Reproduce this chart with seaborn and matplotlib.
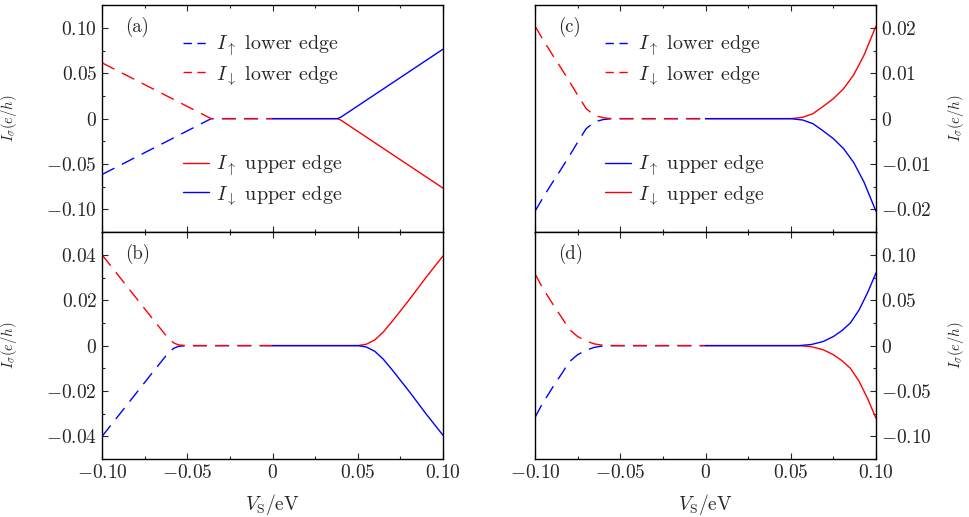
import matplotlib
matplotlib.use('Agg')
import matplotlib.pyplot as plt
import matplotlib.ticker as mticker
from matplotlib.lines import Line2D
import seaborn as sns
import pandas as pd
import numpy as np

sns.set_style('ticks')
plt.rcParams['font.family'] = ['cmr10', 'DejaVu Serif']
plt.rcParams['mathtext.fontset'] = 'cm'
plt.rcParams['axes.unicode_minus'] = False
plt.rcParams['axes.formatter.use_mathtext'] = True

BLUE = '#0000ff'
RED = '#ff0000'

# ---- panel (a) ----
a_xl = [-0.100, -0.080, -0.060, -0.036, -0.020, 0.000]
a_up_lower = [-0.0615, -0.0423, -0.0231, 0.0, 0.0, 0.0]
a_dn_lower = [0.0615, 0.0423, 0.0231, 0.0, 0.0, 0.0]
a_xu = [0.000, 0.020, 0.038, 0.040, 0.060, 0.080, 0.100]
a_up_upper = [0.0, 0.0, 0.0, -0.0015, -0.0265, -0.0515, -0.0765]
a_dn_upper = [0.0, 0.0, 0.0, 0.0015, 0.0265, 0.0515, 0.0765]

# ---- panel (b) ----
b_xl = [-0.100, -0.090, -0.080, -0.070, -0.062, -0.058, -0.055, -0.050, -0.030, 0.000]
b_up_lower = [-0.040, -0.0305, -0.021, -0.0115, -0.004, -0.0012, -0.0003, 0.0, 0.0, 0.0]
b_dn_lower = [0.040, 0.0305, 0.021, 0.0115, 0.004, 0.0012, 0.0003, 0.0, 0.0, 0.0]
b_xu = [0.000, 0.030, 0.050, 0.055, 0.060, 0.065, 0.070, 0.080, 0.090, 0.100]
b_up_upper = [0.0, 0.0, 0.0, 0.0006, 0.0025, 0.006, 0.0105, 0.020, 0.030, 0.0395]
b_dn_upper = [0.0, 0.0, 0.0, -0.0006, -0.0025, -0.006, -0.0105, -0.020, -0.030, -0.0395]

# ---- panel (c) ----
c_xl = [-0.100, -0.095, -0.090, -0.085, -0.080, -0.075, -0.070, -0.065, -0.060, -0.055, -0.030, 0.000]
c_up_lower = [-0.0204, -0.0172, -0.0142, -0.0113, -0.0083, -0.0052, -0.0022, -0.0007, -0.0002, 0.0, 0.0, 0.0]
c_dn_lower = [0.0204, 0.0172, 0.0142, 0.0113, 0.0083, 0.0052, 0.0022, 0.0007, 0.0002, 0.0, 0.0, 0.0]
c_xu = [0.000, 0.030, 0.050, 0.057, 0.063, 0.069, 0.075, 0.081, 0.087, 0.093, 0.100]
c_up_upper = [0.0, 0.0, 0.0, -0.0003, -0.0011, -0.0027, -0.0044, -0.0066, -0.0097, -0.0140, -0.0204]
c_dn_upper = [0.0, 0.0, 0.0, 0.0003, 0.0011, 0.0027, 0.0044, 0.0066, 0.0097, 0.0140, 0.0204]

# ---- panel (d) ----
d_xl = [-0.100, -0.096, -0.092, -0.088, -0.084, -0.080, -0.075, -0.070, -0.065, -0.060, -0.050, 0.000]
d_up_lower = [-0.0790, -0.0650, -0.0530, -0.0410, -0.0300, -0.0180, -0.0100, -0.0050, -0.0018, -0.0003, 0.0, 0.0]
d_dn_lower = [0.0790, 0.0650, 0.0530, 0.0410, 0.0300, 0.0180, 0.0100, 0.0050, 0.0018, 0.0003, 0.0, 0.0]
d_xu = [0.000, 0.030, 0.055, 0.062, 0.069, 0.075, 0.080, 0.085, 0.090, 0.095, 0.100]
d_up_upper = [0.0, 0.0, 0.0, 0.0012, 0.0045, 0.0100, 0.0165, 0.0250, 0.0390, 0.0580, 0.0800]
d_dn_upper = [0.0, 0.0, 0.0, -0.0012, -0.0045, -0.0100, -0.0165, -0.0250, -0.0390, -0.0580, -0.0800]

xticks = [-0.10, -0.05, 0.0, 0.05, 0.10]

def fmt(v, pos):
    if abs(v) < 1e-9:
        return r'$0$'
    return r'$%.2f$' % v

def draw(ax, xl, up_l, dn_l, xu, up_u, dn_u, up_u_col, dn_u_col):
    dash = (10, 6)
    sns.lineplot(x=xl, y=up_l, ax=ax, color=BLUE, lw=1.0)
    ax.lines[-1].set_dashes(dash)
    sns.lineplot(x=xl, y=dn_l, ax=ax, color=RED, lw=1.0)
    ax.lines[-1].set_dashes(dash)
    if up_u_col == BLUE:
        sns.lineplot(x=xu, y=dn_u, ax=ax, color=dn_u_col, lw=1.0)
        sns.lineplot(x=xu, y=up_u, ax=ax, color=up_u_col, lw=1.0)
    else:
        sns.lineplot(x=xu, y=up_u, ax=ax, color=up_u_col, lw=1.0)
        sns.lineplot(x=xu, y=dn_u, ax=ax, color=dn_u_col, lw=1.0)

fig, axes = plt.subplots(2, 2, figsize=(9.69, 5.17), dpi=100, sharex=True)
plt.subplots_adjust(left=0.1053, right=0.904, top=0.990, bottom=0.112, hspace=0, wspace=0.27)

panels = [
    (axes[0, 0], a_xl, a_up_lower, a_dn_lower, a_xu, a_up_upper, a_dn_upper, RED, BLUE, 0.125, [-0.10, -0.05, 0, 0.05, 0.10], 0.025, '(a)', False),
    (axes[1, 0], b_xl, b_up_lower, b_dn_lower, b_xu, b_up_upper, b_dn_upper, RED, BLUE, 0.05, [-0.04, -0.02, 0, 0.02, 0.04], 0.01, '(b)', False),
    (axes[0, 1], c_xl, c_up_lower, c_dn_lower, c_xu, c_up_upper, c_dn_upper, BLUE, RED, 0.025, [-0.02, -0.01, 0, 0.01, 0.02], 0.005, '(c)', True),
    (axes[1, 1], d_xl, d_up_lower, d_dn_lower, d_xu, d_up_upper, d_dn_upper, BLUE, RED, 0.125, [-0.10, -0.05, 0, 0.05, 0.10], 0.025, '(d)', True),
]

for ax, xl, ul, dl, xu, uu, du, cu, cd, lim, yt, ymin, tag, right in panels:
    draw(ax, xl, ul, dl, xu, uu, du, cu, cd)
    ax.set_xlim(-0.1, 0.1)
    ax.set_ylim(-lim, lim)
    ax.set_yticks(yt)
    ax.yaxis.set_minor_locator(mticker.MultipleLocator(ymin))
    ax.set_xticks(xticks)
    ax.xaxis.set_minor_locator(mticker.MultipleLocator(0.025))
    ax.xaxis.set_major_formatter(mticker.FuncFormatter(fmt))
    ax.yaxis.set_major_formatter(mticker.FuncFormatter(fmt))
    for s in ax.spines.values():
        s.set_linewidth(1.0)
        s.set_color('black')
    ax.tick_params(which='both', direction='in', top=True, bottom=True,
                   left=not right, right=right, labelleft=not right,
                   labelright=right, labelsize=14, width=0.8)
    ax.tick_params(which='major', length=4.5)
    ax.tick_params(which='minor', length=2.5)
    ax.set_ylabel(r'$I_\sigma(e/h)$', fontsize=10.5)
    if right:
        ax.yaxis.set_label_position('right')
        ax.yaxis.set_label_coords(1.205, 0.5)
    else:
        ax.yaxis.set_label_coords(-0.243, 0.5)
    ax.text(0.067, 0.905, tag, transform=ax.transAxes, fontsize=13.5, va='center', ha='left')

for ax in axes[1]:
    ax.set_xlabel(r'$V_{\rm S}/{\rm eV}$', fontsize=14, labelpad=7)

def add_legends(ax, up_col, dn_col, x0):
    h1 = [Line2D([], [], color=BLUE, lw=1.0, dashes=(6, 4)),
          Line2D([], [], color=RED, lw=1.0, dashes=(6, 4))]
    l1 = [r'$I_\uparrow$ lower edge', r'$I_\downarrow$ lower edge']
    h2 = [Line2D([], [], color=up_col, lw=1.0), Line2D([], [], color=dn_col, lw=1.0)]
    l2 = [r'$I_\uparrow$ upper edge', r'$I_\downarrow$ upper edge']
    kw = dict(frameon=False, fontsize=14.5, handlelength=1.3, handletextpad=0.36,
              labelspacing=0.3, borderaxespad=0, borderpad=0)
    leg1 = ax.legend(h1, l1, loc='center left', bbox_to_anchor=(x0, 0.758), **kw)
    ax.add_artist(leg1)
    ax.legend(h2, l2, loc='center left', bbox_to_anchor=(x0, 0.229), **kw)

add_legends(axes[0, 0], RED, BLUE, 0.2375)
add_legends(axes[0, 1], BLUE, RED, 0.205)

plt.savefig('out.png', dpi=100)
